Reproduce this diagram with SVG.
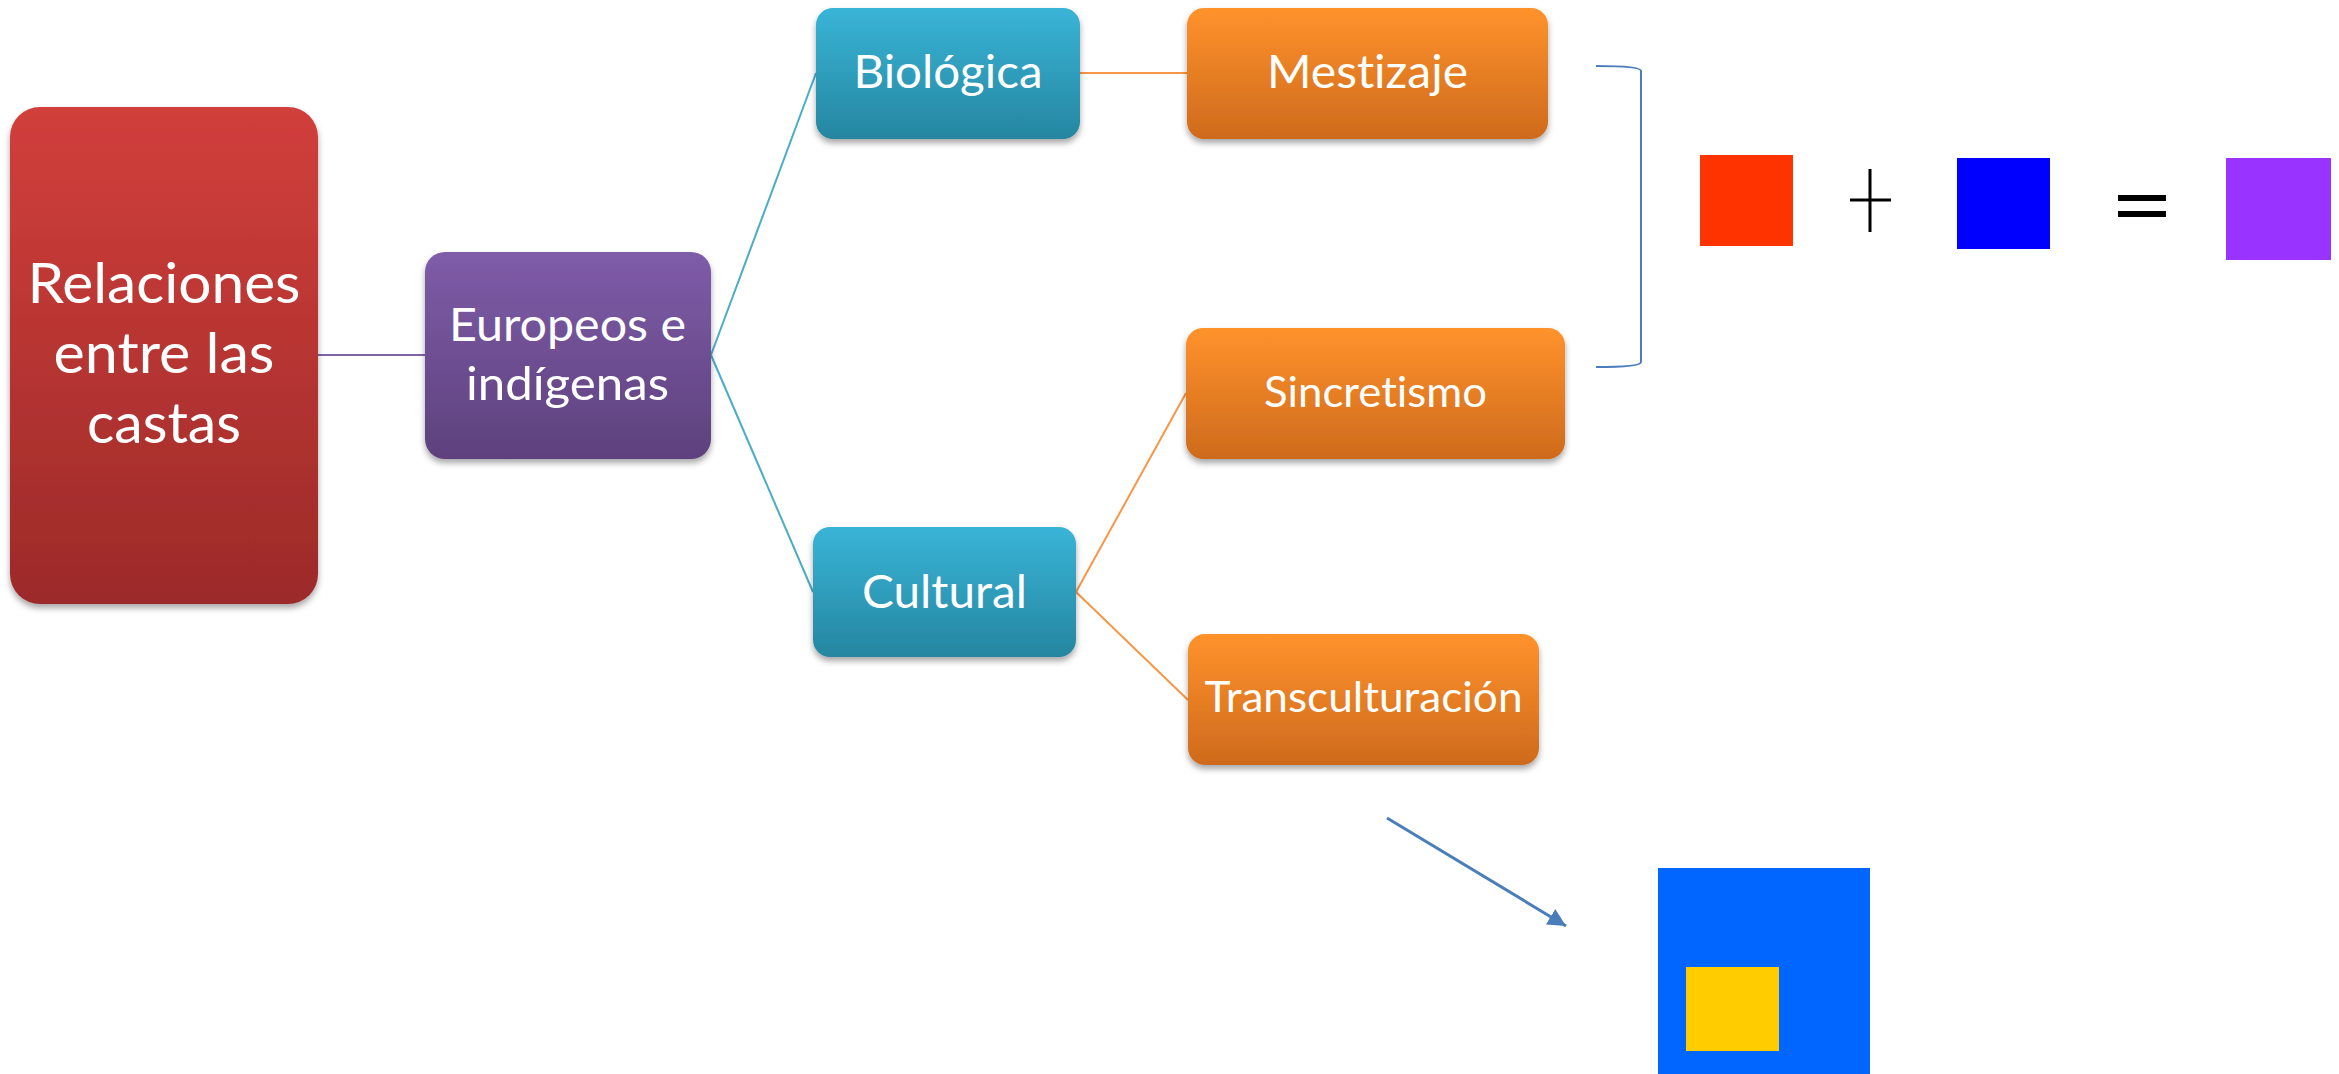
<svg xmlns="http://www.w3.org/2000/svg" width="2339" height="1074" viewBox="0 0 2339 1074">
<style>
.t{font-family:Lato,"Open Sans","Liberation Sans",sans-serif;fill:#ffffff;text-anchor:middle;font-variant-ligatures:none;font-feature-settings:"liga" 0,"clig" 0}
.c{fill:none;stroke-width:2}
</style>
<defs>
<linearGradient id="gRed" x1="0" y1="0" x2="0" y2="1"><stop offset="0" stop-color="#D13F3B"/><stop offset="1" stop-color="#9C2A29"/></linearGradient>
<linearGradient id="gPur" x1="0" y1="0" x2="0" y2="1"><stop offset="0" stop-color="#7F5CA8"/><stop offset="1" stop-color="#5D417D"/></linearGradient>
<linearGradient id="gTeal" x1="0" y1="0" x2="0" y2="1"><stop offset="0" stop-color="#39B4D7"/><stop offset="1" stop-color="#2586A0"/></linearGradient>
<linearGradient id="gOr" x1="0" y1="0" x2="0" y2="1"><stop offset="0" stop-color="#FF922B"/><stop offset="1" stop-color="#CE6A1D"/></linearGradient>
<filter id="sh" x="-10%" y="-10%" width="120%" height="125%"><feDropShadow dx="0" dy="4" stdDeviation="3" flood-color="#000" flood-opacity="0.35"/></filter>
<marker id="arr" markerUnits="userSpaceOnUse" markerWidth="20" markerHeight="20" refX="18" refY="9" orient="auto"><path d="M0,0 L18,9 L0,18 Z" fill="#4A7EBB"/></marker>
</defs>
<rect width="2339" height="1074" fill="#ffffff"/>
<g id="connectors">
<line class="c" x1="318" y1="355" x2="425" y2="355" stroke="#8064A2"/>
<line class="c" x1="711" y1="355" x2="816" y2="73" stroke="#4BACC6"/>
<line class="c" x1="711" y1="355" x2="813" y2="592" stroke="#4BACC6"/>
<line class="c" x1="1080" y1="73" x2="1187" y2="73" stroke="#F79646"/>
<line class="c" x1="1076" y1="592" x2="1186" y2="393" stroke="#F79646"/>
<line class="c" x1="1076" y1="592" x2="1188" y2="700" stroke="#F79646"/>
<path class="c" d="M1596,66 Q1641,66 1641,71 L1641,362 Q1641,367 1596,367" stroke="#4A7EBB"/>
<line x1="1387" y1="818" x2="1566" y2="926" stroke="#4A7EBB" stroke-width="3" marker-end="url(#arr)"/>
</g>
<g id="n-relaciones">
<rect x="10" y="107" width="308" height="497" rx="30" fill="url(#gRed)" filter="url(#sh)"/>
<text class="t" x="164" y="303" font-size="57" textLength="273" lengthAdjust="spacingAndGlyphs">Relaciones</text>
<text class="t" x="164" y="373" font-size="57" textLength="221" lengthAdjust="spacingAndGlyphs">entre las</text>
<text class="t" x="164" y="443" font-size="57" textLength="154" lengthAdjust="spacingAndGlyphs">castas</text>
</g>
<g id="n-europeos">
<rect x="425" y="252" width="286" height="207" rx="20" fill="url(#gPur)" filter="url(#sh)"/>
<text class="t" x="567.5" y="341" font-size="47" textLength="237" lengthAdjust="spacingAndGlyphs">Europeos e</text>
<text class="t" x="567.5" y="400" font-size="47" textLength="203" lengthAdjust="spacingAndGlyphs">indígenas</text>
</g>
<g id="n-biologica">
<rect x="816" y="8" width="264" height="131" rx="17" fill="url(#gTeal)" filter="url(#sh)"/>
<text class="t" x="948" y="88" font-size="47" textLength="189" lengthAdjust="spacingAndGlyphs">Biológica</text>
</g>
<g id="n-cultural">
<rect x="813" y="527" width="263" height="130" rx="17" fill="url(#gTeal)" filter="url(#sh)"/>
<text class="t" x="944.5" y="608" font-size="47" textLength="165" lengthAdjust="spacingAndGlyphs">Cultural</text>
</g>
<g id="n-mestizaje">
<rect x="1187" y="8" width="361" height="131" rx="17" fill="url(#gOr)" filter="url(#sh)"/>
<text class="t" x="1367.5" y="88" font-size="47" textLength="201" lengthAdjust="spacingAndGlyphs">Mestizaje</text>
</g>
<g id="n-sincretismo">
<rect x="1186" y="328" width="379" height="131" rx="17" fill="url(#gOr)" filter="url(#sh)"/>
<text class="t" x="1375.5" y="407" font-size="43" textLength="223" lengthAdjust="spacingAndGlyphs">Sincretismo</text>
</g>
<g id="n-transculturacion">
<rect x="1188" y="634" width="351" height="131" rx="17" fill="url(#gOr)" filter="url(#sh)"/>
<text class="t" x="1363.5" y="712" font-size="43" textLength="318" lengthAdjust="spacingAndGlyphs">Transculturación</text>
</g>
<g id="equation">
<rect x="1700" y="155" width="93" height="91" fill="#FF3300"/>
<line x1="1870" y1="169" x2="1870" y2="232" stroke="#000" stroke-width="3"/>
<line x1="1850" y1="200" x2="1891" y2="200" stroke="#000" stroke-width="3"/>
<rect x="1957" y="158" width="93" height="91" fill="#0000FF"/>
<rect x="2118" y="195" width="48" height="6" fill="#000"/>
<rect x="2118" y="211" width="48" height="6" fill="#000"/>
<rect x="2226" y="158" width="105" height="102" fill="#9933FF"/>
</g>
<g id="squares">
<rect x="1658" y="868" width="212" height="206" fill="#0066FF"/>
<rect x="1686" y="967" width="93" height="84" fill="#FFCC00"/>
</g>
</svg>
